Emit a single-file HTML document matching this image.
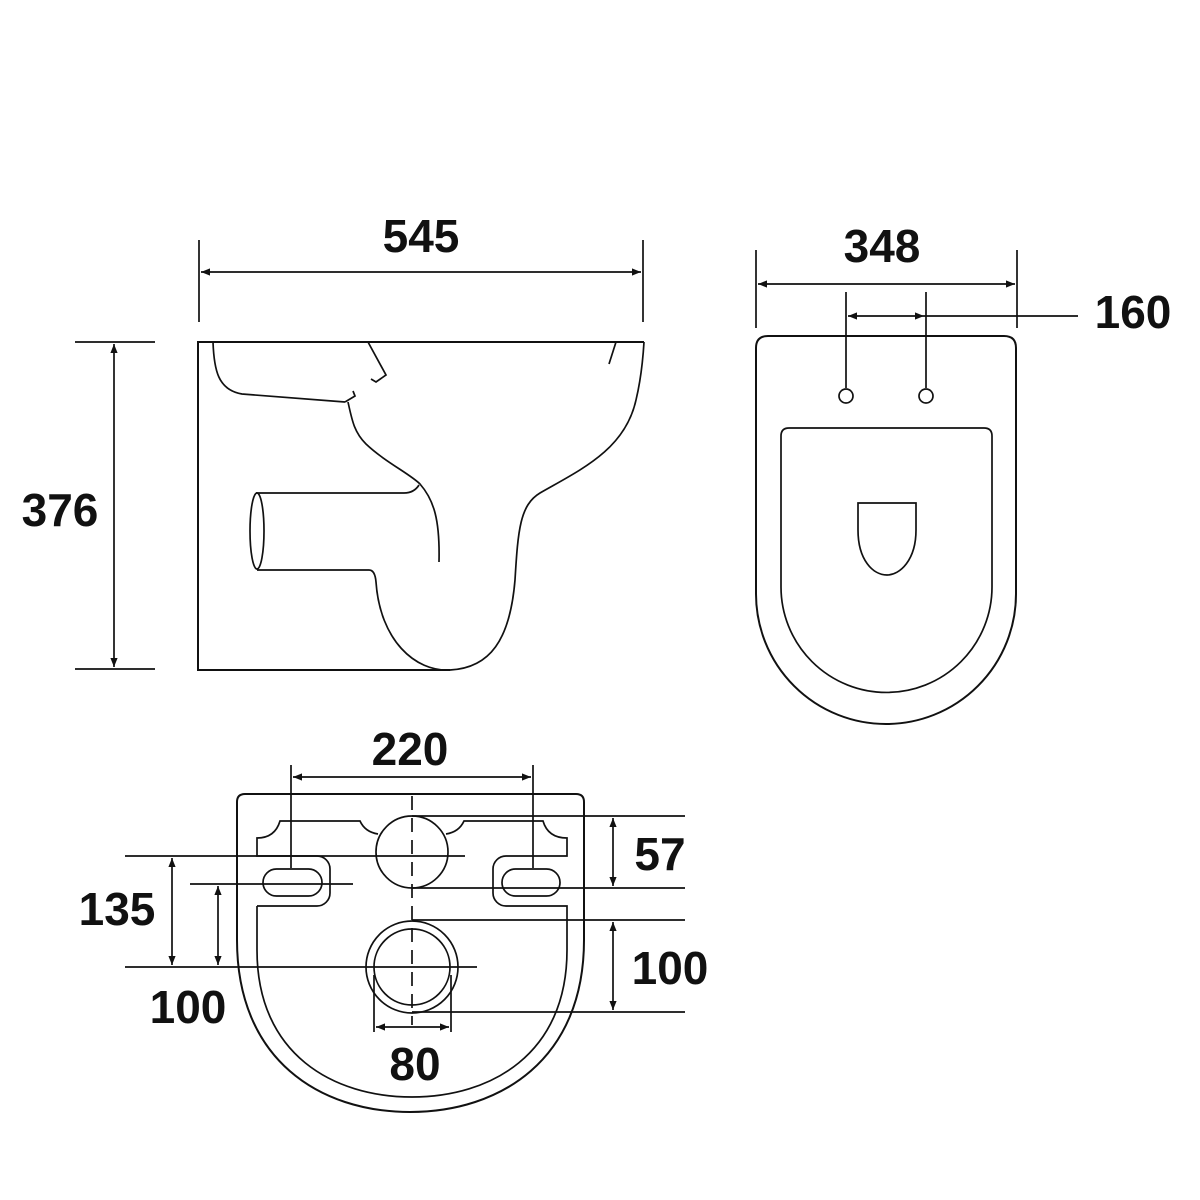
<!DOCTYPE html>
<html><head><meta charset="utf-8"><style>
html,body{margin:0;padding:0;background:#fff}
svg{display:block}
text{font-family:"Liberation Sans",sans-serif;font-weight:bold;font-size:46px;fill:#111}
</style></head><body>
<svg width="1200" height="1200" viewBox="0 0 1200 1200" xmlns="http://www.w3.org/2000/svg">
<defs>
<marker id="a" viewBox="0 0 10 10" refX="10" refY="5" markerWidth="13" markerHeight="9" orient="auto-start-reverse" markerUnits="userSpaceOnUse"><path d="M0,1 L10,5 L0,9 Z" fill="#111"/></marker>
</defs>
<g fill="none" stroke="#111" stroke-width="1.7">
<!-- side view -->
<path d="M644,342 H198 V670 H450" stroke-width="2"/>
<path d="M213,342 C214,370 218,390 242,394 L345,402"/>
<path d="M345,402 L355,396 L353,391"/>
<path d="M368,342 L386,375 L376,382 L371,379"/>
<path d="M348,402 C352,420 354,432 366,444 C385,462 410,474 420,484 C434,500 440,520 439,562"/>
<path d="M256,493 H404 Q414,493 419,485"/>
<ellipse cx="257" cy="531" rx="7" ry="38"/>
<path d="M257,570 H369 Q375,570 376,582 C380,640 415,672 450,670 C490,668 510,640 515,580 C518,530 520,505 540,493 C580,470 625,450 636,400 Q642,375 644,342"/>
<path d="M616,342 L609,364"/>
<!-- 545 -->
<line x1="199" y1="240" x2="199" y2="322"/><line x1="643" y1="240" x2="643" y2="322"/>
<line x1="201" y1="272" x2="641" y2="272" marker-start="url(#a)" marker-end="url(#a)"/>
<!-- 376 -->
<line x1="75" y1="342" x2="155" y2="342"/><line x1="75" y1="669" x2="155" y2="669"/>
<line x1="114" y1="344" x2="114" y2="667" marker-start="url(#a)" marker-end="url(#a)"/>
<!-- top view -->
<path d="M768,336 H1004 Q1016,336 1016,348 V594 A130,130 0 0 1 756,594 V348 Q756,336 768,336 Z" stroke-width="2"/>
<path d="M789,428 H984 Q992,428 992,436 V587 A105,105 0 0 1 781,587 V436 Q781,428 789,428 Z"/>
<circle cx="846" cy="396" r="7"/><circle cx="926" cy="396" r="7"/>
<path d="M858,503 H916 V530 C916,560 900,575 887,575 C873,575 858,560 858,530 Z"/>
<line x1="756" y1="250" x2="756" y2="328"/><line x1="1017" y1="250" x2="1017" y2="328"/>
<line x1="758" y1="284" x2="1015" y2="284" marker-start="url(#a)" marker-end="url(#a)"/>
<line x1="846" y1="292" x2="846" y2="388"/><line x1="926" y1="292" x2="926" y2="388"/>
<line x1="848" y1="316" x2="924" y2="316" marker-start="url(#a)" marker-end="url(#a)"/>
<line x1="924" y1="316" x2="1078" y2="316"/>
<!-- bottom view -->
<path d="M245,794 H576 Q584,794 584,802 V940 C584,1060 500,1112 410,1112 C320,1112 237,1060 237,940 V802 Q237,794 245,794 Z" stroke-width="2"/>
<path d="M257,906 H317 A13,13 0 0 0 330,893 V869 A13,13 0 0 0 317,856 H257 V838 Q275,838 280,821 H360 Q365,832 378,834"/>
<path d="M446,834 Q459,832 464,821 H543 Q548,838 567,838 V856 H506 A13,13 0 0 0 493,869 V893 A13,13 0 0 0 506,906 H567 V950 C567,1055 490,1097 412,1097 C334,1097 257,1055 257,950 V906"/>
<rect x="263" y="869" width="59" height="27" rx="13.5"/>
<rect x="502" y="869" width="58" height="27" rx="13.5"/>
<circle cx="412" cy="852" r="36"/>
<circle cx="412" cy="967" r="46"/>
<circle cx="412" cy="967" r="38"/>
<line x1="412" y1="796" x2="412" y2="1025" stroke-dasharray="14,8"/>
<line x1="125" y1="856" x2="465" y2="856"/>
<line x1="190" y1="884" x2="353" y2="884"/>
<line x1="125" y1="967" x2="477" y2="967"/>
<line x1="412" y1="816" x2="685" y2="816"/>
<line x1="412" y1="888" x2="685" y2="888"/>
<line x1="613" y1="818" x2="613" y2="886" marker-start="url(#a)" marker-end="url(#a)"/>
<line x1="412" y1="920" x2="685" y2="920"/>
<line x1="412" y1="1012" x2="685" y2="1012"/>
<line x1="613" y1="922" x2="613" y2="1010" marker-start="url(#a)" marker-end="url(#a)"/>
<line x1="291" y1="765" x2="291" y2="868"/><line x1="533" y1="765" x2="533" y2="868"/>
<line x1="293" y1="777" x2="531" y2="777" marker-start="url(#a)" marker-end="url(#a)"/>
<line x1="172" y1="858" x2="172" y2="965" marker-start="url(#a)" marker-end="url(#a)"/>
<line x1="218" y1="886" x2="218" y2="965" marker-start="url(#a)" marker-end="url(#a)"/>
<line x1="374" y1="975" x2="374" y2="1032"/><line x1="451" y1="975" x2="451" y2="1032"/>
<line x1="376" y1="1027" x2="449" y2="1027" marker-start="url(#a)" marker-end="url(#a)"/>
</g>
<text x="421" y="252" text-anchor="middle">545</text>
<text x="60" y="526" text-anchor="middle">376</text>
<text x="882" y="262" text-anchor="middle">348</text>
<text x="1133" y="328" text-anchor="middle">160</text>
<text x="410" y="765" text-anchor="middle">220</text>
<text x="660" y="870" text-anchor="middle">57</text>
<text x="670" y="984" text-anchor="middle">100</text>
<text x="117" y="925" text-anchor="middle">135</text>
<text x="188" y="1023" text-anchor="middle">100</text>
<text x="415" y="1080" text-anchor="middle">80</text>
</svg>
</body></html>
